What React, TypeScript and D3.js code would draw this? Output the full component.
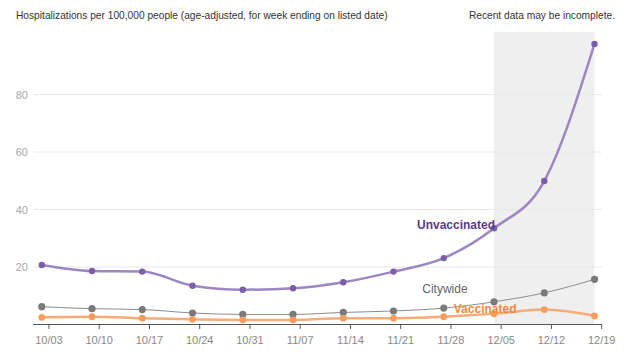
import React from 'react';
import * as d3 from 'd3';

const weeks = ['2021-10-02', '2021-10-09', '2021-10-16', '2021-10-23', '2021-10-30', '2021-11-06',
  '2021-11-13', '2021-11-20', '2021-11-27', '2021-12-04', '2021-12-11', '2021-12-18'];
const unvaccinated = [20.7, 18.6, 18.4, 13.5, 12.1, 12.6, 14.7, 18.4, 23.1, 33.5, 49.9, 97.6];
const citywide = [6.2, 5.5, 5.2, 4.0, 3.5, 3.5, 4.2, 4.7, 5.7, 7.9, 11.0, 15.7];
const vaccinated = [2.5, 2.7, 2.2, 1.8, 1.6, 1.6, 2.2, 2.2, 2.7, 3.7, 5.2, 3.0];
const tickDates = ['2021-10-03', '2021-10-10', '2021-10-17', '2021-10-24', '2021-10-31', '2021-11-07',
  '2021-11-14', '2021-11-21', '2021-11-28', '2021-12-05', '2021-12-12', '2021-12-19'];
const yTicks = [20, 40, 60, 80];

const parse = d3.utcParse('%Y-%m-%d');
const fmt = d3.utcFormat('%m/%d');

const App = () => {
  const x = d3.scaleUtc()
    .domain([parse('2021-10-01'), parse('2021-12-19')])
    .range([34.6, 601.7]);
  const y = d3.scaleLinear().domain([0, 100]).range([324.5, 37]);

  const line = d3.line<[Date, number]>()
    .x((d) => x(d[0]))
    .y((d) => y(d[1]))
    .curve(d3.curveMonotoneX);

  const series = [
    { name: 'citywide', values: citywide, stroke: '#8c8c8c', width: 1, dot: '#7a7a7a', r: 3.6 },
    { name: 'vaccinated', values: vaccinated, stroke: '#f7ac78', width: 2.5, dot: '#f59c5e', r: 3.4 },
    { name: 'unvaccinated', values: unvaccinated, stroke: '#9d86c2', width: 2.5, dot: '#7b5ea8', r: 3.2 },
  ];

  const dates = weeks.map((w) => parse(w) as Date);
  const shadeStart = x(dates[9]);
  const shadeEnd = x(dates[11]);

  return (
    <svg width={640} height={360} style={{ position: 'absolute', left: 0, top: 0, fontFamily: 'Liberation Sans, Arial, sans-serif' }}>
      <rect x={0} y={0} width={640} height={360} fill="#fff" />
      <text x={16} y={19} fontSize={10.2} fill="#333">
        Hospitalizations per 100,000 people (age-adjusted, for week ending on listed date)
      </text>
      <text x={615} y={19} fontSize={10.2} fill="#333" textAnchor="end">Recent data may be incomplete.</text>

      <rect x={shadeStart} y={32} width={shadeEnd - shadeStart} height={y(0) - 32} fill="#efefef" />

      {yTicks.map((t) => (
        <g key={t}>
          <line x1={34} x2={602} y1={y(t)} y2={y(t)} stroke="#e8e8e8" strokeWidth={1} />
          <text x={28} y={y(t) + 4} fontSize={11} fill="#a8a8a8" textAnchor="end">{t}</text>
        </g>
      ))}

      <line x1={33} x2={602} y1={y(0)} y2={y(0)} stroke="#555" strokeWidth={1} />
      {tickDates.map((t) => {
        const tx = x(parse(t) as Date);
        return (
          <g key={t}>
            <line x1={tx} x2={tx} y1={y(0)} y2={y(0) + 4.5} stroke="#555" strokeWidth={1} />
            <text x={tx} y={344} fontSize={11} fill="#888" textAnchor="middle">{fmt(parse(t) as Date)}</text>
          </g>
        );
      })}

      {series.map((s) => {
        const pts = dates.map((d, i) => [d, s.values[i]] as [Date, number]);
        return (
          <g key={s.name}>
            <path d={line(pts) || ''} fill="none" stroke={s.stroke} strokeWidth={s.width} />
            {pts.map((p, i) => (
              <circle key={i} cx={x(p[0])} cy={y(p[1])} r={s.r} fill={s.dot} />
            ))}
          </g>
        );
      })}

      <text x={x(dates[9]) + 1} y={y(33.5) + 1} fontSize={12} fontWeight="bold" fill="#5b3b8c" textAnchor="end">Unvaccinated</text>
      <text x={x(parse('2021-11-24') as Date)} y={y(11)} fontSize={12} fill="#666">Citywide</text>
      <text x={x(parse('2021-11-27') as Date) + 10} y={y(4.0)} fontSize={12} fontWeight="bold" fill="#f28a3e">Vaccinated</text>
    </svg>
  );
};

export default App;
